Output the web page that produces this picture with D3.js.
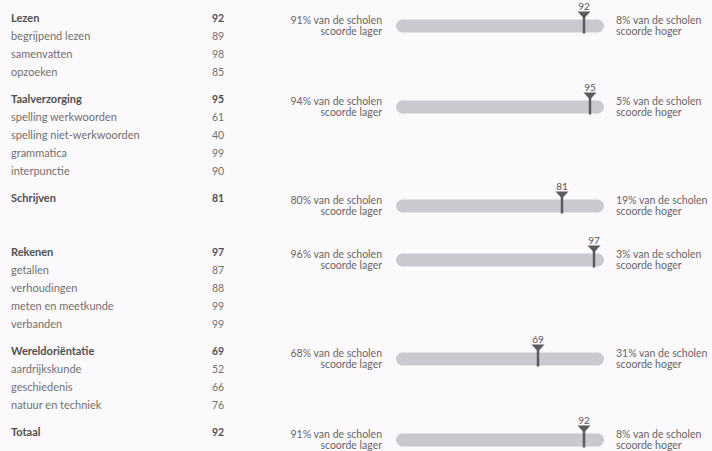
<!DOCTYPE html>
<html>
<head>
<meta charset="utf-8">
<script src="https://cdn.jsdelivr.net/npm/d3@7"></script>
<style>
  body { margin: 0; background: #fcf9fc; }
  svg { display: block; }
  text { font-family: Lato, "Open Sans", sans-serif; }
</style>
</head>
<body>
<div id="chart"></div>
<script>
// Groups with their score, and the percentage of schools lower / higher
const groups = ['Lezen', 'Taalverzorging', 'Schrijven', 'Rekenen', 'Wereldoriëntatie', 'Totaal'];
const groupScores = [92, 95, 81, 97, 69, 92];
const pctLower = [91, 94, 80, 96, 68, 91];
const pctHigher = [8, 5, 19, 3, 31, 8];

// Sub items per group
const subLabels = [
  ['begrijpend lezen', 'samenvatten', 'opzoeken'],
  ['spelling werkwoorden', 'spelling niet-werkwoorden', 'grammatica', 'interpunctie'],
  [],
  ['getallen', 'verhoudingen', 'meten en meetkunde', 'verbanden'],
  ['aardrijkskunde', 'geschiedenis', 'natuur en techniek'],
  [],
];
const subScores = [
  [89, 98, 85],
  [61, 40, 99, 90],
  [],
  [87, 88, 99, 99],
  [52, 66, 76],
  [],
];

// layout: extra slots between groups
const gapAfter = [1.5, 1.5, 3, 1.5, 1.5, 0];

const W = 712, H = 451;

const svg = d3.select('#chart')
  .append('svg')
  .attr('width', W)
  .attr('height', H);

svg.append('rect').attr('width', W).attr('height', H).attr('fill', '#fcf9fc');

// Build list of rows (slot index for every text line)
let rows = [];
let headerSlot = [];
let slot = 0;
groups.forEach((g, i) => {
  headerSlot.push(slot);
  rows.push({ label: g, score: groupScores[i], header: true, slot: slot });
  slot += 1;
  subLabels[i].forEach((s, j) => {
    rows.push({ label: s, score: subScores[i][j], header: false, slot: slot });
    slot += 1;
  });
  slot += gapAfter[i] - 1;
});

const y = d3.scaleLinear().domain([0, 1]).range([18, 36]);
const x = d3.scaleLinear().domain([0, 100]).range([400, 600]);

// Left table
const rowG = svg.append('g')
  .selectAll('g')
  .data(rows)
  .enter()
  .append('g')
  .attr('transform', (d) => `translate(0,${y(d.slot)})`);

rowG.append('text')
  .attr('x', 11)
  .attr('dy', '0.35em')
  .attr('font-size', 11)
  .attr('font-weight', (d) => (d.header ? 'bold' : 'normal'))
  .attr('fill', (d) => (d.header ? '#505050' : '#707070'))
  .text((d) => d.label);

rowG.append('text')
  .attr('x', 212)
  .attr('dy', '0.35em')
  .attr('font-size', 10.5)
  .attr('font-weight', (d) => (d.header ? 'bold' : 'normal'))
  .attr('fill', (d) => (d.header ? '#505050' : '#707070'))
  .text((d) => d.score);

// Bars
const barH = 13;
const barG = svg.append('g')
  .selectAll('g')
  .data(groups)
  .enter()
  .append('g')
  .attr('transform', (d, i) => `translate(0,${y(headerSlot[i]) + 8})`);

barG.append('rect')
  .attr('x', x(0) - 4)
  .attr('y', -barH / 2)
  .attr('width', x(100) - x(0) + 8)
  .attr('height', barH)
  .attr('rx', barH / 2)
  .attr('fill', '#cbc8d0');

barG.append('line')
  .attr('x1', (d, i) => x(groupScores[i]))
  .attr('x2', (d, i) => x(groupScores[i]))
  .attr('y1', -barH / 2 - 4)
  .attr('y2', barH / 2 + 1)
  .attr('stroke', '#5a5a5f')
  .attr('stroke-width', 2.5);

barG.append('path')
  .attr('d', (d, i) => {
    let cx = x(groupScores[i]);
    let top = -barH / 2 - 8;
    return `M ${cx - 6.5} ${top} L ${cx + 6.5} ${top} L ${cx} ${top + 7} Z`;
  })
  .attr('fill', '#5a5a5f');

barG.append('text')
  .attr('x', (d, i) => x(groupScores[i]))
  .attr('y', -barH / 2 - 10)
  .attr('text-anchor', 'middle')
  .attr('font-size', 10)
  .attr('fill', '#555')
  .text((d, i) => groupScores[i]);

// Percentage texts
const pctLeft = barG.append('text')
  .attr('text-anchor', 'end')
  .attr('font-size', 10.5)
  .attr('fill', '#666');
pctLeft.append('tspan').attr('x', 382).attr('y', -5.5).attr('dy', '0.35em')
  .text((d, i) => `${pctLower[i]}% van de scholen`);
pctLeft.append('tspan').attr('x', 382).attr('y', 5.5).attr('dy', '0.35em')
  .text('scoorde lager');

const pctRight = barG.append('text')
  .attr('font-size', 10.5)
  .attr('fill', '#666');
pctRight.append('tspan').attr('x', 616).attr('y', -5.5).attr('dy', '0.35em')
  .text((d, i) => `${pctHigher[i]}% van de scholen`);
pctRight.append('tspan').attr('x', 616).attr('y', 5.5).attr('dy', '0.35em')
  .text('scoorde hoger');
</script>
</body>
</html>
